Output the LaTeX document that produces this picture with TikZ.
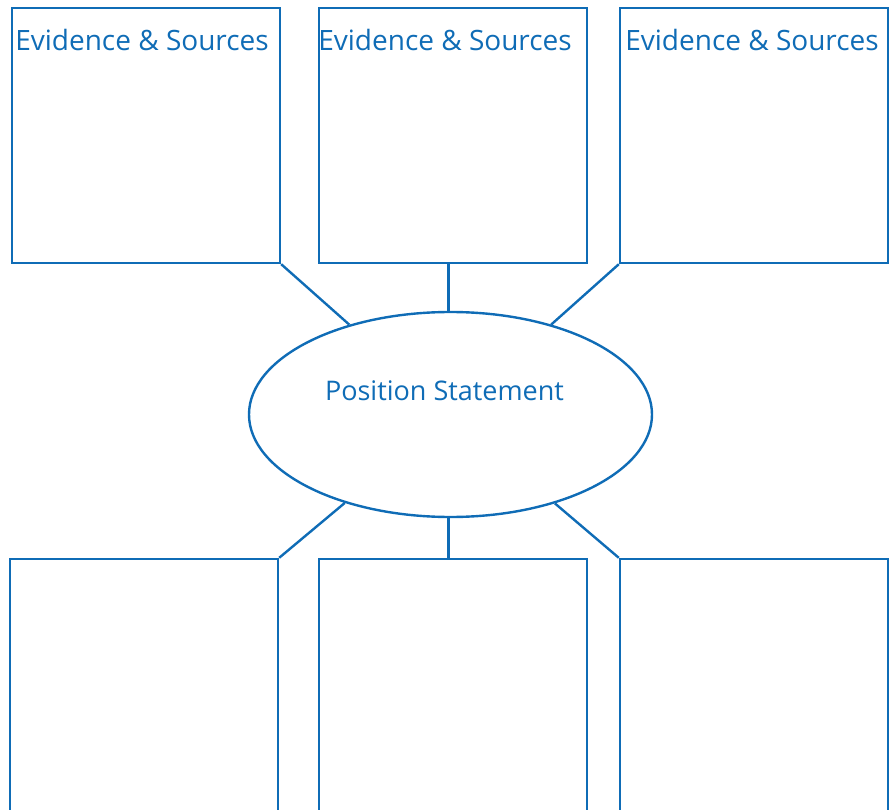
\documentclass[tikz,border=0pt]{standalone}
\usepackage{fontspec}
\setmainfont{Open Sans}
\usetikzlibrary{shapes.geometric}
\definecolor{mapblue}{HTML}{0F6CB6}

\begin{document}
\begin{tikzpicture}[x=1pt,y=-1pt,line width=2.4pt,mapblue,box/.style={draw,minimum width=268pt,minimum height=255pt,inner sep=0pt},head/.style={font=\fontsize{28}{30}\selectfont,anchor=north,inner sep=0pt},bubble/.style={draw,ellipse,minimum width=403pt,minimum height=205pt,inner sep=0pt}]
\useasboundingbox (0,0) rectangle (889,810); \clip (0,0) rectangle (889,810);
\node[box,label={[head,xshift=-4pt,yshift=-21pt]north:Evidence \& Sources}] (tl) at (146,135.5) {};
\node[box,label={[head,xshift=-8pt,yshift=-21pt]north:Evidence \& Sources}] (tm) at (453,135.5) {};
\node[box,label={[head,xshift=-2pt,yshift=-21pt]north:Evidence \& Sources}] (tr) at (754,135.5) {};
\node[bubble,label={[head,font=\fontsize{27}{30}\selectfont,anchor=center,xshift=-6pt,yshift=24pt]center:Position Statement}] (ps) at (450.5,414.5) {};
\node[box] (bl) at (144,686.5) {}; \node[box] (bm) at (453,686.5) {}; \node[box] (br) at (754,686.5) {};
\draw (tl.south east)--(ps); \draw ([xshift=-2pt]ps.north)--([xshift=-2pt]ps.north |- tm.south); \draw (tr.south west)--(ps);
\draw (bl.north east)--(ps); \draw ([xshift=-2pt]ps.south)--([xshift=-2pt]ps.south |- bm.north); \draw (br.north west)--(ps);
\end{tikzpicture}
\end{document}
